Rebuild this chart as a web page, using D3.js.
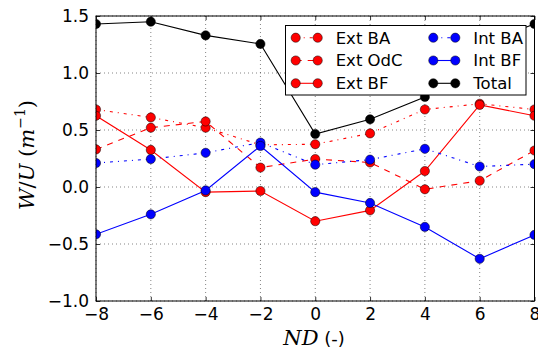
<!DOCTYPE html>
<html><head><meta charset="utf-8">
<script src="https://cdn.jsdelivr.net/npm/d3@7"></script>
<style>body{margin:0;background:#fff}svg{display:block}</style>
</head><body>
<script>
const xValues = [-8, -6, -4, -2, 0, 2, 4, 6, 8];
const extBA  = [0.68, 0.61, 0.52, 0.37, 0.375, 0.47, 0.68, 0.73, 0.68];
const extOdC = [0.33, 0.52, 0.575, 0.17, 0.245, 0.215, -0.02, 0.055, 0.32];
const extBF  = [0.625, 0.325, -0.045, -0.035, -0.30, -0.205, 0.14, 0.72, 0.625];
const intBA  = [0.21, 0.245, 0.30, 0.39, 0.196, 0.24, 0.335, 0.18, 0.20];
const intBF  = [-0.415, -0.24, -0.03, 0.36, -0.045, -0.14, -0.35, -0.63, -0.42];
const total  = [1.43, 1.45, 1.33, 1.255, 0.465, 0.594, 0.79, 1.25, 1.43];
const seriesNames = ["Ext BA", "Ext OdC", "Ext BF", "Int BA", "Int BF", "Total"];
const xTicks = [-8, -6, -4, -2, 0, 2, 4, 6, 8];
const yTicks = [-1.0, -0.5, 0.0, 0.5, 1.0, 1.5];

const series = [
  {name: seriesNames[0], values: extBA,  color: "#ff0000", dash: "3,5,1,5"},
  {name: seriesNames[1], values: extOdC, color: "#ff0000", dash: "6,6"},
  {name: seriesNames[2], values: extBF,  color: "#ff0000", dash: null},
  {name: seriesNames[3], values: intBA,  color: "#0000ff", dash: "3,5,1,5"},
  {name: seriesNames[4], values: intBF,  color: "#0000ff", dash: null},
  {name: seriesNames[5], values: total,  color: "#000000", dash: null}
];

const W = 538, H = 352;
const m = {left: 96, right: 538 - 534.5, top: 16, bottom: 352 - 301};
const svg = d3.select("body").append("svg").attr("width", W).attr("height", H);
const x = d3.scaleLinear().domain([-8, 8]).range([m.left, W - m.right]);
const y = d3.scaleLinear().domain([-1, 1.5]).range([H - m.bottom, m.top]);
const pw = W - m.left - m.right, ph = H - m.top - m.bottom;

svg.append("defs").append("clipPath").attr("id", "clip")
  .append("rect").attr("x", m.left).attr("y", m.top).attr("width", pw).attr("height", ph);

// grid
const grid = svg.append("g").attr("stroke", "#000").attr("stroke-width", 0.6)
  .attr("stroke-dasharray", "1,3").attr("opacity", 0.8);
xTicks.forEach(t => grid.append("line").attr("x1", x(t)).attr("x2", x(t)).attr("y1", m.top).attr("y2", H - m.bottom));
yTicks.forEach(t => grid.append("line").attr("x1", m.left).attr("x2", W - m.right).attr("y1", y(t)).attr("y2", y(t)));

// axes (inside ticks, all four sides)
const fmtY = d => d3.format(".1f")(d).replace("-", "\u2212");
const fmtX = d => String(d).replace("-", "\u2212");
const axB = svg.append("g").attr("transform", `translate(0,${H - m.bottom})`)
  .call(d3.axisBottom(x).tickValues(xTicks).tickFormat(fmtX).tickSizeInner(-4).tickSizeOuter(0).tickPadding(7));
const axT = svg.append("g").attr("transform", `translate(0,${m.top})`)
  .call(d3.axisTop(x).tickValues(xTicks).tickFormat("").tickSizeInner(-4).tickSizeOuter(0));
const axL = svg.append("g").attr("transform", `translate(${m.left},0)`)
  .call(d3.axisLeft(y).tickValues(yTicks).tickFormat(fmtY).tickSizeInner(-4).tickSizeOuter(0).tickPadding(7));
const axR = svg.append("g").attr("transform", `translate(${W - m.right},0)`)
  .call(d3.axisRight(y).tickValues(yTicks).tickFormat("").tickSizeInner(-4).tickSizeOuter(0));
[axB, axT, axL, axR].forEach(a => {
  a.select(".domain").remove();
  a.selectAll("text").attr("font-family", "DejaVu Sans").attr("font-size", 17).attr("fill", "#000");
  a.selectAll("line").attr("stroke", "#000").attr("stroke-width", 0.8);
});
axB.selectAll("text").attr("dy", "0.71em");

// data
const plot = svg.append("g").attr("clip-path", "url(#clip)");
const line = d3.line().x((d, i) => x(xValues[i])).y(d => y(d));
series.forEach(s => {
  plot.append("path").attr("d", line(s.values)).attr("fill", "none")
    .attr("stroke", s.color).attr("stroke-width", 1.1)
    .attr("stroke-dasharray", s.dash);
  plot.selectAll(null).data(s.values).enter().append("circle")
    .attr("cx", (d, i) => x(xValues[i])).attr("cy", d => y(d)).attr("r", 4.6)
    .attr("fill", s.color).attr("stroke", "#000").attr("stroke-width", 0.5);
});

// frame
svg.append("rect").attr("x", m.left).attr("y", m.top).attr("width", pw).attr("height", ph)
  .attr("fill", "none").attr("stroke", "#000").attr("stroke-width", 1);

// legend
const lg = svg.append("g");
lg.append("rect").attr("x", 285.5).attr("y", 25.5).attr("width", 240.5).attr("height", 69.5)
  .attr("fill", "#fff").attr("stroke", "#000").attr("stroke-width", 1);
series.forEach((s, i) => {
  const col = Math.floor(i / 3), row = i % 3;
  const x0 = col === 0 ? 295.7 : 433.3;
  const yy = 37.7 + row * 22.8;
  lg.append("line").attr("x1", x0).attr("x2", x0 + 22).attr("y1", yy).attr("y2", yy)
    .attr("stroke", s.color).attr("stroke-width", 1.1).attr("stroke-dasharray", s.dash);
  [x0, x0 + 22].forEach(cx => lg.append("circle").attr("cx", cx).attr("cy", yy).attr("r", 4.6)
    .attr("fill", s.color).attr("stroke", "#000").attr("stroke-width", 0.5));
  lg.append("text").attr("x", x0 + 40).attr("y", yy).attr("dy", "0.36em")
    .attr("font-family", "DejaVu Sans").attr("font-size", 16.5).text(s.name);
});

// axis labels
const xl = svg.append("text").attr("x", 314).attr("y", 345).attr("text-anchor", "middle")
  .attr("font-size", 21);
xl.append("tspan").attr("font-family", "DejaVu Serif").attr("font-style", "italic").text("ND");
xl.append("tspan").attr("font-family", "DejaVu Sans").attr("font-size", 18).text(" (-)");

const yl = svg.append("text").attr("transform", "translate(34,155) rotate(-90)")
  .attr("text-anchor", "middle").attr("font-family", "DejaVu Serif").attr("font-size", 21);
yl.append("tspan").attr("font-style", "italic").text("W");
yl.append("tspan").text("/");
yl.append("tspan").attr("font-style", "italic").text("U");
yl.append("tspan").text(" (");
yl.append("tspan").attr("font-style", "italic").text("m");
yl.append("tspan").attr("font-size", 14).attr("dy", -9).text("\u22121");
yl.append("tspan").attr("dy", 9).text(")");
</script>
</body></html>
